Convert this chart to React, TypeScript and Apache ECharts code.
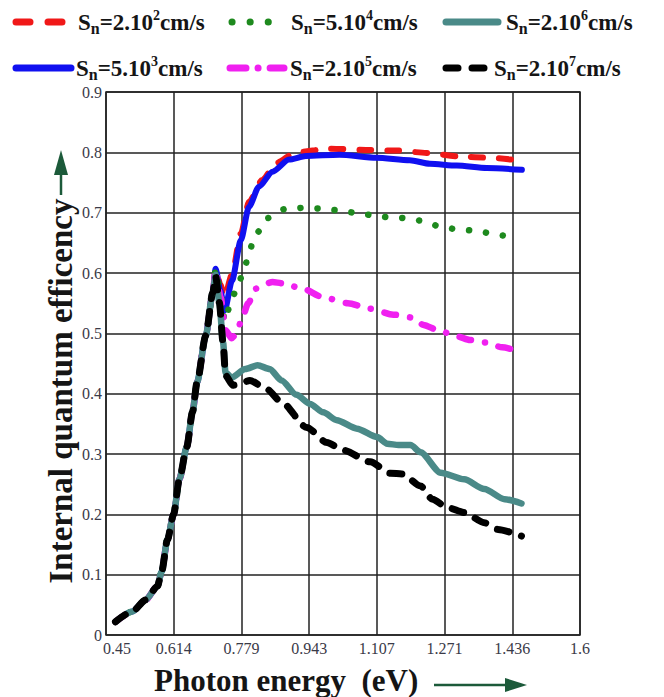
import React, { useEffect, useRef } from "react";
import * as echarts from "echarts";

// ---------- data ----------
const xTickLabels = ["0.45", "0.614", "0.779", "0.943", "1.107", "1.271", "1.436", "1.6"];
const X_MIN = 0.45;
const X_MAX = 1.6;
const X_STEPS = 7;
const Y_MIN = 0;
const Y_MAX = 0.9;
const Y_STEP = 0.1;

// shared rising part (identical for all surface recombination velocities)
const riseX = [0.473, 0.514, 0.546, 0.575, 0.585, 0.599, 0.614, 0.628, 0.646, 0.66, 0.671, 0.692, 0.709];
const riseY = [0.022, 0.039, 0.058, 0.081, 0.105, 0.158, 0.2, 0.258, 0.312, 0.37, 0.419, 0.496, 0.567];

// Sn = 2.10^2 cm/s
const redX = [0.716, 0.728, 0.737, 0.756, 0.777, 0.797, 0.829, 0.862, 0.911, 0.992, 1.081, 1.155, 1.228, 1.309, 1.382, 1.447];
const redY = [0.607, 0.58, 0.56, 0.598, 0.665, 0.718, 0.754, 0.782, 0.8, 0.806, 0.804, 0.803, 0.799, 0.793, 0.791, 0.787];
// Sn = 5.10^3 cm/s
const blueX = [0.716, 0.727, 0.738, 0.756, 0.777, 0.797, 0.821, 0.854, 0.894, 0.935, 1.016, 1.106, 1.187, 1.236, 1.301, 1.374, 1.459];
const blueY = [0.607, 0.572, 0.538, 0.588, 0.654, 0.71, 0.743, 0.768, 0.788, 0.794, 0.796, 0.791, 0.787, 0.781, 0.778, 0.774, 0.771];
// Sn = 5.10^4 cm/s
const greenX = [0.716, 0.727, 0.738, 0.752, 0.768, 0.785, 0.797, 0.812, 0.842, 0.884, 0.927, 0.968, 1.012, 1.053, 1.095, 1.138, 1.179, 1.221, 1.264, 1.307, 1.35, 1.392, 1.435];
const greenY = [0.606, 0.57, 0.52, 0.549, 0.577, 0.604, 0.635, 0.663, 0.691, 0.706, 0.708, 0.707, 0.704, 0.7, 0.696, 0.692, 0.691, 0.686, 0.676, 0.672, 0.67, 0.664, 0.659];
// Sn = 2.10^5 cm/s
const magentaX = [0.716, 0.728, 0.74, 0.755, 0.767, 0.78, 0.795, 0.813, 0.835, 0.854, 0.878, 0.927, 0.976, 1.037, 1.09, 1.147, 1.195, 1.22, 1.26, 1.301, 1.333, 1.37, 1.411, 1.447];
const magentaY = [0.605, 0.56, 0.505, 0.492, 0.5, 0.525, 0.55, 0.574, 0.582, 0.585, 0.583, 0.574, 0.56, 0.55, 0.541, 0.531, 0.526, 0.514, 0.504, 0.495, 0.489, 0.485, 0.477, 0.471];
// Sn = 2.10^6 cm/s
const tealX = [0.716, 0.725, 0.734, 0.74, 0.755, 0.788, 0.818, 0.847, 0.876, 0.912, 0.945, 0.977, 1.01, 1.059, 1.108, 1.132, 1.16, 1.189, 1.213, 1.262, 1.319, 1.368, 1.417, 1.458];
const tealY = [0.597, 0.551, 0.485, 0.435, 0.427, 0.441, 0.447, 0.441, 0.422, 0.398, 0.383, 0.369, 0.356, 0.342, 0.328, 0.317, 0.315, 0.315, 0.303, 0.269, 0.258, 0.242, 0.225, 0.218];
// Sn = 2.10^7 cm/s
const blackX = [0.716, 0.725, 0.734, 0.74, 0.758, 0.78, 0.799, 0.839, 0.876, 0.937, 0.986, 1.026, 1.091, 1.14, 1.169, 1.213, 1.242, 1.279, 1.319, 1.368, 1.401, 1.458];
const blackY = [0.595, 0.551, 0.485, 0.43, 0.414, 0.418, 0.422, 0.408, 0.386, 0.344, 0.319, 0.306, 0.287, 0.268, 0.267, 0.247, 0.225, 0.211, 0.203, 0.186, 0.175, 0.164];

const snMantissa = ["2.10", "5.10", "5.10", "2.10", "2.10", "2.10"];
const snExponent = ["2", "3", "4", "5", "6", "7"];

// ---------- styles ----------
const SERIF = "'Liberation Serif', 'Times New Roman', serif";

type Def = {
  key: string;
  xs: number[];
  ys: number[];
  mant: string;
  exp: string;
  color: string;
  width: number;
  dash: number[] | "solid";
  legendDash: number[] | null;
  legendRow: number;
  iconX: [number, number];
  textX: number;
  z: number;
};

const defs: Def[] = [
  { key: "red", xs: redX, ys: redY, mant: snMantissa[0], exp: snExponent[0], color: "#f01818", width: 6, dash: [12, 16], legendDash: [14, 18], legendRow: 0, iconX: [16, 62], textX: 78, z: 2 },
  { key: "blue", xs: blueX, ys: blueY, mant: snMantissa[1], exp: snExponent[1], color: "#1010f0", width: 6, dash: "solid", legendDash: null, legendRow: 1, iconX: [16, 71], textX: 76, z: 3 },
  { key: "green", xs: greenX, ys: greenY, mant: snMantissa[2], exp: snExponent[2], color: "#1e8a1e", width: 6.5, dash: [0.1, 17], legendDash: [0.1, 18], legendRow: 0, iconX: [232, 286], textX: 291, z: 4 },
  { key: "magenta", xs: magentaX, ys: magentaY, mant: snMantissa[3], exp: snExponent[3], color: "#f020f0", width: 6.5, dash: [12, 14, 0.1, 14], legendDash: [16, 12, 0.1, 12], legendRow: 1, iconX: [230, 284], textX: 290, z: 5 },
  { key: "teal", xs: tealX, ys: tealY, mant: snMantissa[4], exp: snExponent[4], color: "#4a8a88", width: 6.5, dash: "solid", legendDash: null, legendRow: 0, iconX: [446, 498], textX: 506, z: 6 },
  { key: "black", xs: blackX, ys: blackY, mant: snMantissa[5], exp: snExponent[5], color: "#000000", width: 7, dash: [12, 13], legendDash: [12, 14], legendRow: 1, iconX: [446, 484], textX: 494, z: 7 },
];

const stepX = (X_MAX - X_MIN) / X_STEPS;
const toAxisX = (x: number) => (x - X_MIN) / stepX;
const seriesName = (d: Def) => `Sn=${d.mant}^${d.exp}cm/s`;

const legendRowY = [22, 68];
const arrowGreen = "#1c5a3a";
const tickColor = "#3a3a48";

export default function App() {
  const ref = useRef<HTMLDivElement>(null);

  useEffect(() => {
    if (!ref.current) return;
    const chart = echarts.init(ref.current, null, { renderer: "svg" });

    const series = defs.map((d) => {
      const xs = riseX.concat(d.xs);
      const ys = riseY.concat(d.ys);
      return {
        type: "line",
        name: seriesName(d),
        data: xs.map((x, i) => [toAxisX(x), ys[i]]),
        showSymbol: false,
        symbol: "none",
        smooth: 0.25,
        smoothMonotone: "x",
        silent: true,
        z: d.z,
        lineStyle: {
          color: d.color,
          width: d.width,
          type: d.dash,
          cap: "round",
          join: "round",
        },
      };
    });

    const legendGraphics: any[] = [];
    defs.forEach((d) => {
      const y = legendRowY[d.legendRow];
      legendGraphics.push({
        type: "line",
        silent: true,
        shape: { x1: d.iconX[0], y1: y, x2: d.iconX[1], y2: y },
        style: {
          stroke: d.color,
          lineWidth: 7,
          lineCap: "round",
          lineDash: d.legendDash || undefined,
        },
      });
      legendGraphics.push({
        type: "text",
        silent: true,
        x: d.textX,
        y: y,
        style: {
          text: `{m|S}{sub|n}{m|=${d.mant}}{sup|${d.exp}}{m|cm/s}`,
          textAlign: "left",
          textVerticalAlign: "middle",
          fill: "#151515",
          rich: {
            m: { fontFamily: SERIF, fontWeight: "bold", fontSize: 23, lineHeight: 28, fill: "#151515", verticalAlign: "middle" },
            sub: { fontFamily: SERIF, fontWeight: "bold", fontSize: 16, lineHeight: 16, fill: "#151515", verticalAlign: "bottom" },
            sup: { fontFamily: SERIF, fontWeight: "bold", fontSize: 14, lineHeight: 18, fill: "#151515", verticalAlign: "top" },
          },
        },
      });
    });

    const option: any = {
      animation: false,
      backgroundColor: "#ffffff",
      grid: {
        left: 106,
        right: 84,
        top: 92,
        bottom: 62,
        show: true,
        borderColor: "#222",
        borderWidth: 1.5,
        backgroundColor: "#ffffff",
      },
      xAxis: {
        type: "value",
        min: 0,
        max: X_STEPS,
        interval: 1,
        axisLine: { show: false },
        axisTick: { show: false },
        splitLine: { show: true, lineStyle: { color: "#222", width: 1.5 } },
        axisLabel: {
          formatter: (v: number) => {
            const i = Math.round(v);
            const s = xTickLabels[i] ?? "";
            return i === 0 ? `{first|${s}}` : s;
          },
          margin: 5,
          fontFamily: SERIF,
          fontSize: 16,
          color: tickColor,
          rich: {
            first: { fontFamily: SERIF, fontSize: 16, color: tickColor, padding: [0, 0, 0, 22] },
          },
        },
      },
      yAxis: {
        type: "value",
        min: Y_MIN,
        max: Y_MAX,
        interval: Y_STEP,
        axisLine: { show: false },
        axisTick: { show: false },
        splitLine: { show: true, lineStyle: { color: "#222", width: 1.5 } },
        axisLabel: {
          formatter: (v: number) => (Math.abs(v) < 1e-9 ? "0" : v.toFixed(1)),
          margin: 4,
          fontFamily: SERIF,
          fontSize: 16,
          color: tickColor,
        },
      },
      series,
      graphic: [
        ...legendGraphics,
        {
          type: "text",
          silent: true,
          x: 61,
          y: 391,
          rotation: Math.PI / 2,
          style: {
            text: "Internal quantum efficency",
            fontFamily: SERIF,
            fontWeight: "bold",
            fontSize: 33,
            fill: "#151515",
            textAlign: "center",
            textVerticalAlign: "middle",
          },
        },
        {
          type: "line",
          silent: true,
          shape: { x1: 61, y1: 195, x2: 61, y2: 170 },
          style: { stroke: arrowGreen, lineWidth: 2.5 },
        },
        {
          type: "polygon",
          silent: true,
          shape: { points: [[54, 175], [68, 175], [61, 150]] },
          style: { fill: arrowGreen },
        },
        {
          type: "text",
          silent: true,
          x: 154,
          y: 680,
          style: {
            text: "Photon energy  (eV)",
            fontFamily: SERIF,
            fontWeight: "bold",
            fontSize: 31,
            fill: "#151515",
            textAlign: "left",
            textVerticalAlign: "middle",
          },
        },
        {
          type: "line",
          silent: true,
          shape: { x1: 434, y1: 685, x2: 510, y2: 685 },
          style: { stroke: arrowGreen, lineWidth: 2.5 },
        },
        {
          type: "polygon",
          silent: true,
          shape: { points: [[505, 678], [505, 692], [527, 685]] },
          style: { fill: arrowGreen },
        },
      ],
    };

    chart.setOption(option);
    return () => chart.dispose();
  }, []);

  return (
    <div
      ref={ref}
      style={{ position: "fixed", left: 0, top: 0, width: 664, height: 697, background: "#fff" }}
    />
  );
}
